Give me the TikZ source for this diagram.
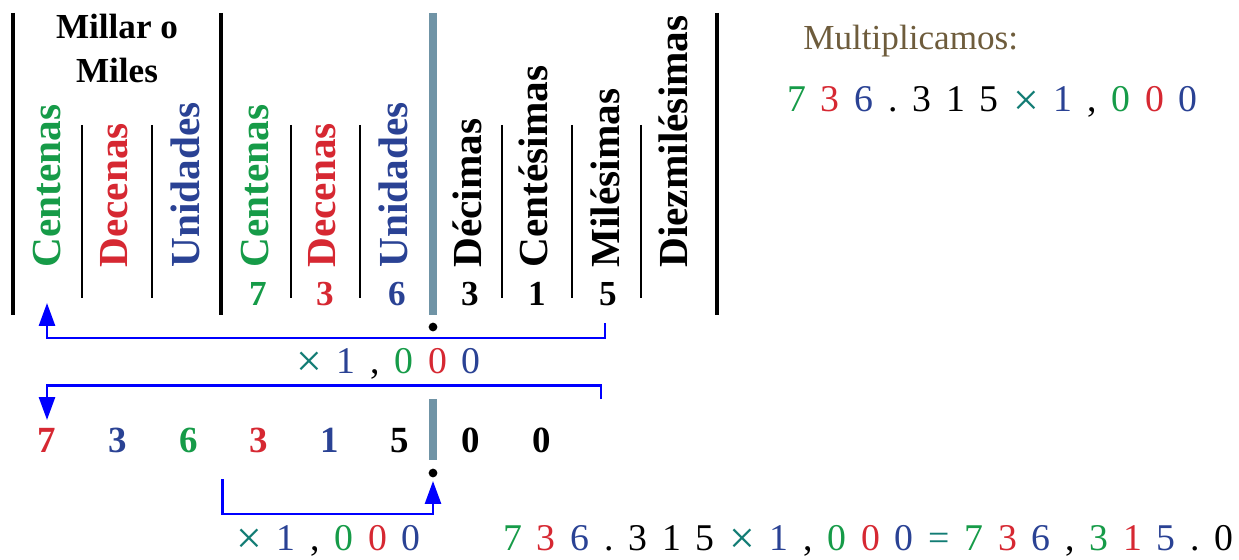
\documentclass[tikz,border=0pt]{standalone}
\usepackage{fontspec}
\setmainfont{Liberation Serif}
\usepackage{xcolor}
\usetikzlibrary{arrows.meta, positioning}
\definecolor{placeGreen}{RGB}{22,155,72}
\definecolor{placeRed}{RGB}{214,40,50}
\definecolor{placeBlue}{RGB}{42,66,148}
\definecolor{opTeal}{RGB}{18,124,116}
\definecolor{pointGray}{RGB}{112,148,166}
\definecolor{noteBrown}{RGB}{110,92,60}
\definecolor{arrowBlue}{RGB}{0,0,255}
\newcommand{\cgreen}[1]{\textcolor{placeGreen}{#1}}
\newcommand{\cred}[1]{\textcolor{placeRed}{#1}}
\newcommand{\cblue}[1]{\textcolor{placeBlue}{#1}}
\newcommand{\cteal}[1]{\textcolor{opTeal}{#1}}
\newcommand{\timesop}{\raisebox{-2pt}{\textcolor{opTeal}{\fontsize{26}{26}\selectfont ×}}}
\tikzset{
    headlabel/.style={
        rotate=90,
        anchor=west,
        inner sep=0pt,
        font={\fontsize{23.5}{28}\selectfont\bfseries}
    },
    headdigit/.style={
        anchor=base,
        inner sep=0pt,
        font={\fontsize{20}{24}\selectfont\bfseries}
    },
    rowdigit/.style={
        inner sep=0pt,
        font={\fontsize{21}{25}\selectfont\bfseries}
    },
    opline/.style={
        anchor=base west,
        inner sep=0pt,
        font={\fontsize{21.5}{26}\selectfont\frenchspacing\spaceskip=0.39em\relax}
    },
    thickrule/.style={line width=2.3pt, draw=black},
    thinrule/.style={line width=1.1pt, draw=black},
    pointrule/.style={line width=4.1pt, draw=pointGray},
    pointdot/.style={circle, fill=black, inner sep=0pt, minimum size=1.75mm},
    shiftarrow/.style={-{Triangle[length=4.6mm, width=3.2mm]}, line width=1.6pt, draw=arrowBlue}
}

\begin{document}
\begin{tikzpicture}[x=0.02cm, y=-0.02cm, node distance=1.03cm]
    \useasboundingbox (0,0) rectangle (1239,560);
    % table rules
    \draw[thickrule] (13,13) -- (13,315);
    \draw[thickrule] (221,13) -- (221,315);
    \draw[thickrule] (717,13) -- (717,315);
    \draw[pointrule] (433,13) -- (433,315);
    \draw[thinrule] (82,125) -- (82,298) (152,125) -- (152,298);
    \draw[thinrule] (291,125) -- (291,298) (360,125) -- (360,298);
    \draw[thinrule] (502,125) -- (502,298) (572,125) -- (572,298) (641,125) -- (641,298);
    % column heads
    \node[anchor=north, align=center, inner sep=0pt, font={\fontsize{20}{25}\selectfont\bfseries}] (milesTitle) at (117,14) {Millar o\\Miles};
    \node[headlabel, text=placeGreen] (hCenM) at (47,268) {Centenas};
    \node[headlabel, text=placeRed] (hDecM) at (114,268) {Decenas};
    \node[headlabel, text=placeBlue] (hUniM) at (185,268) {Unidades};
    \node[headlabel, text=placeGreen] (hCenU) at (255,268) {Centenas};
    \node[headlabel, text=placeRed] (hDecU) at (322,268) {Decenas};
    \node[headlabel, text=placeBlue] (hUniU) at (393,268) {Unidades};
    \node[headlabel] (hDecimas) at (467,268) {Décimas};
    \node[headlabel] (hCentesimas) at (533,268) {Centésimas};
    \node[headlabel] (hMilesimas) at (605,268) {Milésimas};
    \node[headlabel] (hDiezmil) at (673,268) {Diezmilésimas};
    % digits in the table
    \node[headdigit, text=placeGreen] (dCen) at (258,305) {7};
    \node[headdigit, text=placeRed] (dDec) at (325,305) {3};
    \node[headdigit, text=placeBlue] (dUni) at (397,305) {6};
    \node[headdigit] (dDecimas) at (470,305) {3};
    \node[headdigit] (dCentesimas) at (537,305) {1};
    \node[headdigit] (dMilesimas) at (608,305) {5};
    \node[pointdot] (ptTop) at (433,327) {};
    % shifted number
    \node[rowdigit, anchor=base, text=placeRed] (r1) at (47,452) {7};
    \node[rowdigit, base right=of r1, text=placeBlue] (r2) {3};
    \node[rowdigit, base right=of r2, text=placeGreen] (r3) {6};
    \node[rowdigit, base right=of r3, text=placeRed] (r4) {3};
    \node[rowdigit, base right=of r4, text=placeBlue] (r5) {1};
    \node[rowdigit, base right=of r5] (r6) {5};
    \node[rowdigit, base right=of r6] (r7) {0};
    \node[rowdigit, base right=of r7] (r8) {0};
    \draw[pointrule] (433,399) -- (433,460);
    \node[pointdot] (ptLow) at (433,473) {};
    % shift arrows
    \coordinate (fromA) at (605,323);
    \coordinate (toA) at (47,303);
    \draw[shiftarrow] (fromA) -- ++(0,15) -| (toA);
    \node[opline] (factA) at (296,373) {\timesop{} \cblue{1} , \cgreen{0} \cred{0} \cblue{0}};
    \coordinate (fromB) at (601,399);
    \coordinate (toB) at (47,420);
    \draw[shiftarrow] (fromB) -- ++(0,-13.5) -| (toB);
    \coordinate (fromC) at (222.7,479);
    \coordinate (toC) at (433,481);
    \draw[shiftarrow] (fromC) -- ++(0,35) -| (toC);
    \node[opline] (factC) at (236,550) {\timesop{} \cblue{1} , \cgreen{0} \cred{0} \cblue{0}};
    % operation
    \node[anchor=base west, inner sep=0pt, font={\fontsize{20}{24}\selectfont}, text=noteBrown] (multTitle) at (803,50) {Multiplicamos:};
    \node[opline] (multLine) at (787,112) {\cgreen{7} \cred{3} \cblue{6} . 3 1 5 \timesop{} \cblue{1} , \cgreen{0} \cred{0} \cblue{0}};
    \node[opline] (result) at (503,550) {\cgreen{7} \cred{3} \cblue{6} . 3 1 5 \timesop{} \cblue{1} , \cgreen{0} \cred{0} \cblue{0} \cteal{=} \cgreen{7} \cred{3} \cblue{6} , \cgreen{3} \cred{1} \cblue{5} . 0};
\end{tikzpicture}
\end{document}
